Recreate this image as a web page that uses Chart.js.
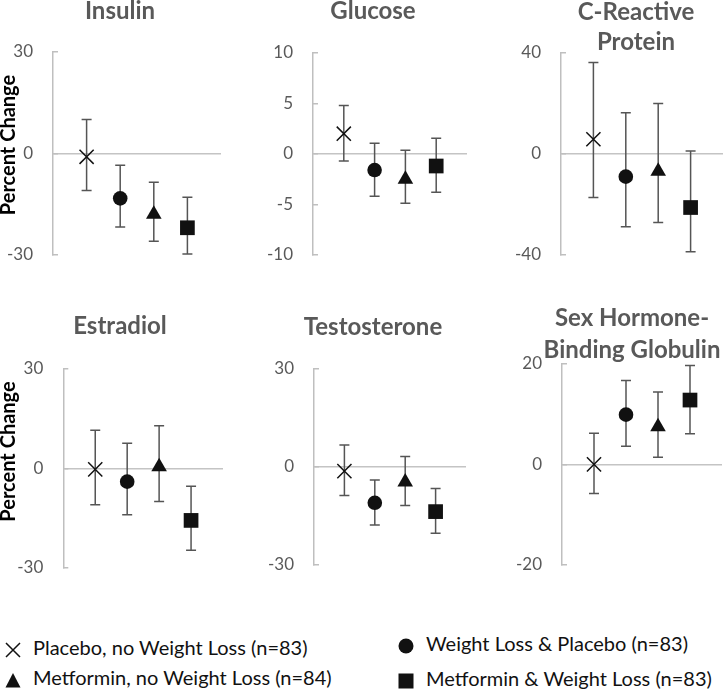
<!DOCTYPE html>
<html>
<head>
<meta charset="utf-8">
<script src="https://cdn.jsdelivr.net/npm/chart.js@4.4.1/dist/chart.umd.min.js"></script>
<style>
  html, body { margin: 0; padding: 0; width: 723px; height: 694px; overflow: hidden; background: #fff; }
  canvas { position: absolute; }
  .item { position: absolute; height: 30px; line-height: 30px; font: 20px Lato, sans-serif; color: #111; white-space: nowrap; }
  .item svg { position: absolute; top: 7px; }
</style>
</head>
<body>
<div id="wrap"></div>
<script>
// groups, in the order they sit on every panel
const groups = ["Placebo, no Weight Loss (n=83)", "Weight Loss & Placebo (n=83)", "Metformin, no Weight Loss (n=84)", "Metformin & Weight Loss (n=83)"];
const groupStyles = ["crossRot", "circle", "triangle", "rect"];
const groupPos = [1, 2, 3, 4];

// percent change: mean, lower and upper end of the error bar
const insulinMean = [-1, -13.3, -18, -22];
const insulinLow = [-11, -21.8, -26, -29.8];
const insulinHigh = [10, -3.5, -8.5, -13];

const glucoseMean = [2.0, -1.6, -2.5, -1.2];
const glucoseLow = [-0.7, -4.2, -4.9, -3.8];
const glucoseHigh = [4.8, 1.05, 0.35, 1.55];

const crpMean = [5.7, -9.1, -7, -21.3];
const crpLow = [-17.3, -28.9, -27.2, -38.8];
const crpHigh = [36, 16.2, 19.8, 1.0];

const estradiolMean = [-0.3, -4, 0.5, -15.7];
const estradiolLow = [-11, -14, -10, -24.7];
const estradiolHigh = [11.5, 7.6, 12.9, -5.4];

const testosteroneMean = [-1.3, -11, -4.6, -13.7];
const testosteroneLow = [-8.8, -17.8, -11.8, -20.3];
const testosteroneHigh = [6.7, -4, 3.2, -6.6];

const shbgMean = [0, 9.9, 7.5, 12.8];
const shbgLow = [-5.8, 3.6, 1.4, 6.1];
const shbgHigh = [6.2, 16.7, 14.4, 19.7];

// y tick labels
const insulinTicks = [-30, 0, 30];
const glucoseTicks = [-10, -5, 0, 5, 10];
const crpTicks = [-40, 0, 40];
const estradiolTicks = [-30, 0, 30];
const testosteroneTicks = [-30, 0, 30];
const shbgTicks = [-20, 0, 20];

const panels = [
  { title: ["Insulin"], mean: insulinMean, low: insulinLow, high: insulinHigh, ticks: insulinTicks, yLabel: true,
    box: { left: 0, top: 0, w: 240, h: 290, yw: 45.5, padR: 19, tp: { top: -1, bottom: 29 }, lh: 1, xh: 33 } },
  { title: ["Glucose"], mean: glucoseMean, low: glucoseLow, high: glucoseHigh, ticks: glucoseTicks, yLabel: false,
    box: { left: 260, top: 0, w: 226, h: 290, yw: 53, padR: 19, tp: { top: -0.5, bottom: 29.5 }, lh: 1, xh: 34 } },
  { title: ["C-Reactive", "Protein"], mean: crpMean, low: crpLow, high: crpHigh, ticks: crpTicks, yLabel: false,
    box: { left: 510, top: 0, w: 252, h: 290, yw: 51, padR: 39, tp: { top: -3, bottom: -4.5 }, lh: 1.25, xh: 33 } },
  { title: ["Estradiol"], mean: estradiolMean, low: estradiolLow, high: estradiolHigh, ticks: estradiolTicks, yLabel: true,
    box: { left: 0, top: 300, w: 240, h: 303, yw: 55.8, padR: 17, tp: { top: 14, bottom: 31 }, lh: 1, xh: 27.7 } },
  { title: ["Testosterone"], mean: testosteroneMean, low: testosteroneLow, high: testosteroneHigh, ticks: testosteroneTicks, yLabel: false,
    box: { left: 260, top: 300, w: 226, h: 300, yw: 54, padR: 20, tp: { top: 15, bottom: 30 }, lh: 1, xh: 21.3 } },
  { title: ["Sex Hormone-", "Binding Globulin"], mean: shbgMean, low: shbgLow, high: shbgHigh, ticks: shbgTicks, yLabel: false,
    box: { left: 510, top: 300, w: 244, h: 300, yw: 52, padR: 32, tp: { top: 3, bottom: -1.5 }, lh: 1.3, xh: 27.7 } }
];

const markerRadius = { crossRot: 10, circle: 7.3, triangle: 9, rect: 10.4 };

// draws the whiskers under the markers
const errorBars = {
  id: "errorBars",
  beforeDatasetsDraw(chart) {
    const { ctx, scales: { x, y } } = chart;
    ctx.save();
    ctx.strokeStyle = "#555";
    ctx.lineWidth = 1.5;
    chart.data.datasets.forEach(ds => {
      const px = x.getPixelForValue(ds.data[0].x);
      const top = y.getPixelForValue(ds.high);
      const bot = y.getPixelForValue(ds.low);
      ctx.beginPath();
      ctx.moveTo(px, top); ctx.lineTo(px, bot);
      ctx.moveTo(px - 5, top); ctx.lineTo(px + 5, top);
      ctx.moveTo(px - 5, bot); ctx.lineTo(px + 5, bot);
      ctx.stroke();
    });
    ctx.restore();
  }
};

const wrap = document.getElementById("wrap");

panels.forEach(p => {
  const b = p.box;
  const canvas = document.createElement("canvas");
  canvas.width = b.w;
  canvas.height = b.h;
  canvas.style.left = b.left + "px";
  canvas.style.top = b.top + "px";
  wrap.appendChild(canvas);

  const datasets = groups.map((g, i) => ({
    label: g,
    data: [{ x: groupPos[i], y: p.mean[i] }],
    low: p.low[i],
    high: p.high[i],
    pointStyle: groupStyles[i],
    pointRadius: markerRadius[groupStyles[i]],
    backgroundColor: "#111",
    borderColor: "#111",
    borderWidth: groupStyles[i] === "crossRot" ? 1.5 : 0,
    clip: false
  }));

  new Chart(canvas, {
    type: "scatter",
    data: { datasets },
    plugins: [errorBars],
    options: {
      responsive: false,
      animation: false,
      events: [],
      layout: { padding: 0 },
      plugins: {
        legend: { display: false },
        tooltip: { enabled: false },
        title: {
          display: true,
          text: p.title,
          color: "#595959",
          font: { family: "Lato", size: 24, weight: "bold", lineHeight: b.lh },
          padding: b.tp
        },
        subtitle: {
          display: p.yLabel,
          position: "left",
          text: "Percent Change",
          color: "#000",
          font: { family: "Lato", size: 20, weight: "bold", lineHeight: 1 },
          padding: { top: -1.5, bottom: -11 }
        }
      },
      scales: {
        x: {
          type: "linear",
          min: 0,
          max: 5,
          grid: { display: false },
          border: { display: false },
          ticks: { display: false },
          afterFit: s => { s.height = b.xh; }
        },
        // empty right axis, only keeps the space right of the plot
        r: {
          type: "linear",
          position: "right",
          grid: { display: false },
          border: { display: false },
          ticks: { display: false },
          afterFit: s => { s.width = b.padR; }
        },
        y: {
          min: p.ticks[0],
          max: p.ticks[p.ticks.length - 1],
          afterBuildTicks: s => { s.ticks = p.ticks.map(v => ({ value: v })); },
          afterFit: s => { s.width = b.yw; },
          border: { display: true, color: "#bfbfbf", width: 1.5 },
          grid: {
            color: c => (c.tick && c.tick.value === 0 ? "#c4c4c4" : "transparent"),
            lineWidth: 1.5,
            tickColor: "#bfbfbf",
            tickLength: -5,
            tickWidth: 1.5
          },
          ticks: {
            color: "#595959",
            font: { family: "Lato", size: 17 },
            padding: 25
          }
        }
      }
    }
  });
});

// legend below the panels
const markerSvg = {
  crossRot: '<svg width="16" height="16"><path d="M1 1L15 15M15 1L1 15" stroke="#111" stroke-width="1.5"/></svg>',
  circle: '<svg width="16" height="16"><circle cx="8" cy="8" r="7.5" fill="#111"/></svg>',
  triangle: '<svg width="16" height="16"><path d="M8 1L15.5 15.5H0.5Z" fill="#111"/></svg>',
  rect: '<svg width="16" height="16"><rect x="0.5" y="0.5" width="15" height="15" fill="#111"/></svg>'
};
const legendSpots = [
  { left: 5, top: 635 },
  { left: 398, top: 631 },
  { left: 5, top: 665 },
  { left: 398, top: 666 }
];
groups.forEach((g, i) => {
  const el = document.createElement("div");
  el.className = "item";
  el.style.left = legendSpots[i].left + "px";
  el.style.top = legendSpots[i].top + "px";
  el.innerHTML = markerSvg[groupStyles[i]] + '<span style="margin-left:28px">' + g + "</span>";
  wrap.appendChild(el);
});
</script>
</body>
</html>
